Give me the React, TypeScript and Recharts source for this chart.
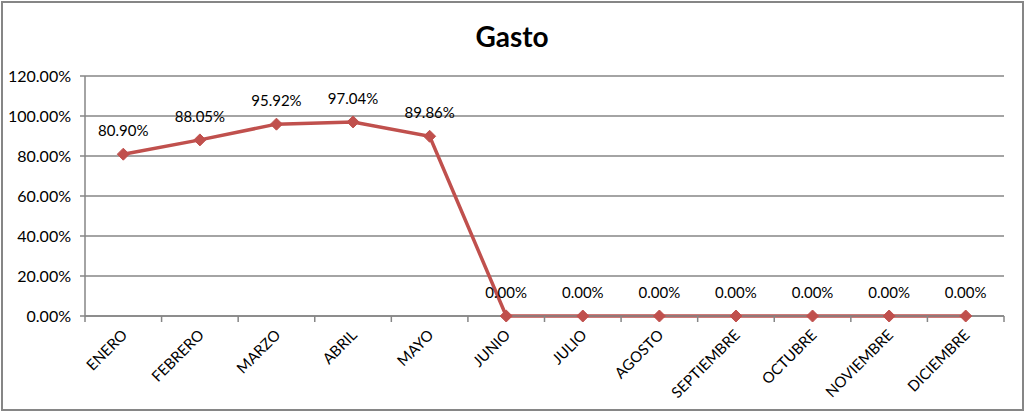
import { LineChart, Line, XAxis, YAxis, CartesianGrid, LabelList } from 'recharts';

const meses = ['ENERO', 'FEBRERO', 'MARZO', 'ABRIL', 'MAYO', 'JUNIO', 'JULIO', 'AGOSTO', 'SEPTIEMBRE', 'OCTUBRE', 'NOVIEMBRE', 'DICIEMBRE'];
const gasto = [0.809, 0.8805, 0.9592, 0.9704, 0.8986, 0, 0, 0, 0, 0, 0, 0];
const yTicks = [0, 0.2, 0.4, 0.6, 0.8, 1.0, 1.2];

const data = meses.map((mes, i) => ({ mes, gasto: gasto[i] }));

const FONT = 'Lato, "Liberation Sans", sans-serif';
const GRAY = '#868686';
const RED = '#C0504D';

const pct = (v: number) => `${(v * 100).toFixed(2)}%`;

// category label plus the tick mark on the band boundary (Excel style)
function MesTick(props: any) {
  const { x, y, payload, index, visibleTicksCount } = props;
  const off = payload.offset || 0;
  const axisY = y - 8;
  return (
    <g>
      <line x1={x - off} x2={x - off} y1={axisY} y2={axisY + 6} stroke={GRAY} strokeWidth={1.5} />
      {index === visibleTicksCount - 1 && (
        <line x1={x + off} x2={x + off} y1={axisY} y2={axisY + 6} stroke={GRAY} strokeWidth={1.5} />
      )}
      <text
        x={x + 5}
        y={y + 12}
        textAnchor="end"
        fontSize={15}
        fontFamily={FONT}
        fill="#000"
        transform={`rotate(-45, ${x + 5}, ${y + 12})`}
      >
        {payload.value}
      </text>
    </g>
  );
}

function Diamond(props: any) {
  const { cx, cy } = props;
  if (cx == null || cy == null) return null;
  const r = 6;
  return <path d={`M${cx},${cy - r}L${cx + r},${cy}L${cx},${cy + r}L${cx - r},${cy}Z`} fill={RED} stroke={RED} />;
}

export default function App() {
  return (
    <div style={{ position: 'absolute', left: 0, top: 0, width: 1024, height: 412, background: '#fff' }}>
      <div
        style={{
          position: 'absolute',
          left: 1,
          top: 1,
          width: 1019,
          height: 406,
          border: `2px solid ${GRAY}`,
        }}
      />
      <div
        style={{
          position: 'absolute',
          left: 0,
          top: 19,
          width: 1024,
          textAlign: 'center',
          fontFamily: FONT,
          fontWeight: 'bold',
          fontSize: 28,
          color: '#000',
        }}
      >
        Gasto
      </div>
      <LineChart
        width={1024}
        height={412}
        data={data}
        margin={{ top: 76, right: 20, bottom: 6, left: 10 }}
        style={{ position: 'absolute', left: 0, top: 0, fontFamily: FONT }}
      >
        <CartesianGrid vertical={false} stroke={GRAY} strokeWidth={1.5} />
        <XAxis
          dataKey="mes"
          scale="band"
          interval={0}
          stroke={GRAY}
          strokeWidth={1.5}
          tickLine={false}
          tickSize={6}
          tickMargin={2}
          height={90}
          tick={<MesTick />}
        />
        <YAxis
          domain={[0, 1.2]}
          ticks={yTicks}
          tickFormatter={pct}
          width={75}
          stroke={GRAY}
          strokeWidth={1.5}
          tickSize={5}
          tickMargin={9}
          tick={{ fill: '#000', fontSize: 16, fontFamily: FONT }}
        />
        <Line
          type="linear"
          dataKey="gasto"
          stroke={RED}
          strokeWidth={3.5}
          dot={<Diamond />}
          activeDot={false}
          isAnimationActive={false}
        >
          <LabelList dataKey="gasto" position="top" offset={18} formatter={(v: any) => pct(Number(v))} fontSize={15} fill="#000" fontFamily={FONT} />
        </Line>
      </LineChart>
    </div>
  );
}
